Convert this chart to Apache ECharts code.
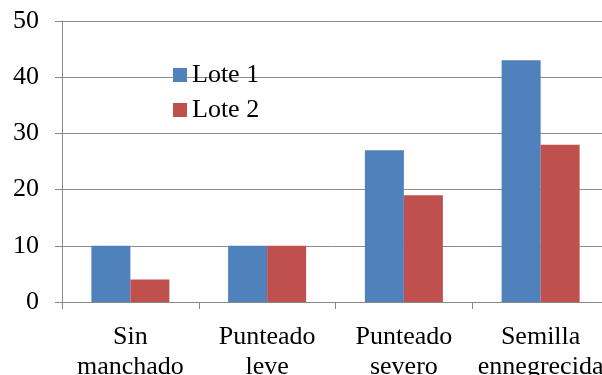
<!DOCTYPE html>
<html>
<head>
<meta charset="utf-8">
<script src="https://cdn.jsdelivr.net/npm/echarts@6/dist/echarts.min.js"></script>
<style>html,body{margin:0;padding:0;background:#fff;}#c{width:602px;height:375px;}</style>
</head>
<body>
<div id="c"></div>
<script>
var categories = ['Sin\nmanchado', 'Punteado\nleve', 'Punteado\nsevero', 'Semilla\nennegrecida'];
var lote1 = [10, 10, 27, 43];
var lote2 = [4, 10, 19, 28];
var seriesNames = ['Lote 1', 'Lote 2'];
var font = "'Liberation Serif', 'Times New Roman', serif";
var chart = echarts.init(document.getElementById('c'), null, {renderer: 'canvas'});
chart.setOption({
  animation: false,
  backgroundColor: '#fff',
  textStyle: {fontFamily: font},
  grid: {left: 62, top: 21, width: 547, height: 281, containLabel: false, outerBoundsMode: 'none'},
  legend: {
    orient: 'vertical', left: 173, top: 62, padding: 0, itemWidth: 14, itemHeight: 14, itemGap: 9,
    icon: 'rect',
    textStyle: {fontFamily: font, fontSize: 26, color: '#000', lineHeight: 26},
    data: seriesNames
  },
  xAxis: {
    type: 'category', data: categories,
    axisLine: {lineStyle: {color: '#888', width: 1}},
    axisTick: {show: true, length: 7, lineStyle: {color: '#888'}, alignWithLabel: false},
    axisLabel: {fontFamily: font, fontSize: 26, color: '#000', lineHeight: 30, margin: 20, interval: 0}
  },
  yAxis: {
    type: 'value', min: 0, max: 50, interval: 10,
    axisLine: {show: true, lineStyle: {color: '#888', width: 1}},
    axisTick: {show: true, length: 7, lineStyle: {color: '#888'}},
    axisLabel: {fontFamily: font, fontSize: 26, color: '#000', margin: 23},
    splitLine: {show: true, lineStyle: {color: '#8c8c8c', width: 1}}
  },
  series: [
    {name: seriesNames[0], type: 'bar', data: lote1, barWidth: 39, barGap: '0%', itemStyle: {color: '#4F81BD'}},
    {name: seriesNames[1], type: 'bar', data: lote2, barWidth: 39, barGap: '0%', itemStyle: {color: '#C0504D'}}
  ]
});
</script>
</body>
</html>
